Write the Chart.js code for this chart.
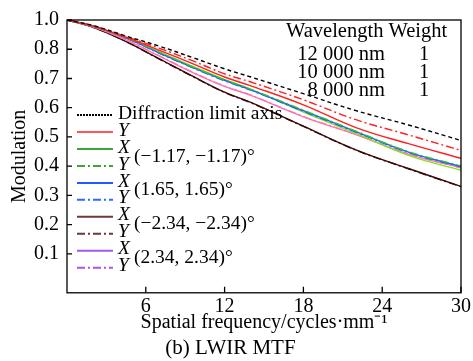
<!DOCTYPE html>
<html>
<head>
<meta charset="utf-8">
<script src="https://cdn.jsdelivr.net/npm/chart.js@4/dist/chart.umd.min.js"></script>
<style>
html, body { margin: 0; padding: 0; background: #fff; }
</style>
</head>
<body>
<canvas id="mtf" width="473" height="361"></canvas>
<script>
// spatial frequency, cycles/mm
var freq = [0, 2, 4.5, 7, 9.6, 12, 14, 18, 22, 26, 30];

// modulation
var diffLimit = [0.900, 0.881, 0.845, 0.811, 0.771, 0.733, 0.705, 0.648, 0.590, 0.541, 0.488];
var redY      = [0.900, 0.880, 0.843, 0.804, 0.760, 0.716, 0.688, 0.627, 0.559, 0.507, 0.454];
var redX      = [0.900, 0.879, 0.841, 0.797, 0.750, 0.705, 0.675, 0.610, 0.532, 0.477, 0.427];
var greenX    = [0.900, 0.879, 0.839, 0.792, 0.741, 0.697, 0.663, 0.585, 0.512, 0.437, 0.386];
var greenY    = [0.900, 0.879, 0.839, 0.790, 0.739, 0.695, 0.663, 0.592, 0.520, 0.450, 0.401];
var blueX     = [0.900, 0.879, 0.838, 0.788, 0.737, 0.694, 0.661, 0.590, 0.518, 0.448, 0.399];
var blueY     = [0.900, 0.879, 0.838, 0.787, 0.736, 0.692, 0.660, 0.588, 0.517, 0.447, 0.398];
var brownX    = [0.900, 0.875, 0.826, 0.768, 0.707, 0.653, 0.618, 0.537, 0.456, 0.392, 0.331];
var brownY    = [0.900, 0.875, 0.826, 0.767, 0.706, 0.652, 0.617, 0.536, 0.455, 0.391, 0.330];
var purpleX   = [0.900, 0.877, 0.832, 0.777, 0.720, 0.673, 0.642, 0.569, 0.508, 0.441, 0.394];
var purpleY   = [0.900, 0.877, 0.832, 0.778, 0.721, 0.674, 0.643, 0.570, 0.509, 0.442, 0.395];

// axis ticks
var xTicks = [6, 12, 18, 24, 30];
var yTicks = [0.1, 0.2, 0.3, 0.4, 0.5, 0.6, 0.7, 0.8, 0.9];
var yTickLabels = ['0.1', '0.2', '0.3', '0.4', '0.5', '0.6', '0.7', '0.8', '1.0'];

// legend + wavelength table
var legendText = ['Diffraction limit axis', 'Y', 'X', 'Y', 'X', 'Y', 'X', 'Y', 'X', 'Y'];
var fieldAngles = ['(\u22121.17, \u22121.17)\u00b0', '(1.65, 1.65)\u00b0', '(\u22122.34, \u22122.34)\u00b0', '(2.34, 2.34)\u00b0'];
var wavelengths = ['12 000 nm', '10 000 nm', '8 000 nm'];
var weights = [1, 1, 1];

var SERIF = "'Liberation Serif', 'Times New Roman', serif";
var DASHDOT = [8, 3, 2, 3];

function pts(arr) {
    return arr.map(function (v, i) { return {x: freq[i], y: v}; });
}

function line(data, color, dash, legendColor) {
    return {
        data: pts(data),
        borderColor: color,
        legendColor: legendColor || color,
        borderDash: dash,
        borderWidth: 1.4,
        pointRadius: 0,
        fill: false,
        tension: 0.4
    };
}

var datasets = [
    line(diffLimit, '#000000', [4, 3]),
    line(redY, '#ff2020', DASHDOT),
    line(redX, '#ff2020', [], '#ff5555'),
    line(greenY, '#33c633', DASHDOT, '#3aa63a'),
    line(blueX, '#1e5aff', []),
    line(blueY, '#1e5aff', DASHDOT, '#2d6cff'),
    line(greenX, '#86e01e', [], '#3aa63a'),
    line(purpleX, '#ff72b0', [], '#a455f5'),
    line(purpleY, '#ff72b0', DASHDOT, '#a455f5'),
    line(brownX, '#3a0808', [], '#6b3a3a'),
    line(brownY, '#3a0808', DASHDOT, '#6b3a3a')
];

// which dataset each legend row shows
var legendRows = [0, 2, 6, 3, 4, 5, 9, 10, 7, 8];

//box and inward ticks
var frame = {
    id: 'frame',
    afterDraw: function (chart) {
        var ctx = chart.ctx, a = chart.chartArea;
        var xs = chart.scales.x, ys = chart.scales.y;
        ctx.save();
        ctx.strokeStyle = '#000';
        ctx.lineWidth = 1.3;
        ctx.strokeRect(a.left, a.top, a.right - a.left, a.bottom - a.top);
        ctx.beginPath();
        xTicks.forEach(function (v) {
            var px = xs.getPixelForValue(v);
            ctx.moveTo(px, a.bottom);
            ctx.lineTo(px, a.bottom - 6);
        });
        yTicks.forEach(function (v) {
            var py = ys.getPixelForValue(v);
            ctx.moveTo(a.left, py);
            ctx.lineTo(a.left + 5, py);
        });
        ctx.stroke();
        ctx.restore();
    }
};

//legend and wavelength table drawn over the plot
var notes = {
    id: 'notes',
    afterDraw: function (chart) {
        var ctx = chart.ctx;
        ctx.save();
        ctx.fillStyle = '#000';
        ctx.textBaseline = 'middle';

        var y0 = 115, step = 16.97;
        for (let i = 0; i < legendRows.length; i++) {
            var ds = chart.data.datasets[legendRows[i]];
            var y = y0 + i * step;
            ctx.strokeStyle = ds.legendColor;
            ctx.lineWidth = 2;
            ctx.setLineDash(i == 0 ? [2, 1] : ds.borderDash);
            ctx.beginPath();
            ctx.moveTo(77, y);
            ctx.lineTo(113, y);
            ctx.stroke();
            ctx.setLineDash([]);
            ctx.font = (i == 0 ? '' : 'italic ') + '19.5px ' + SERIF;
            ctx.textAlign = 'left';
            ctx.fillText(legendText[i], 118, y - 1.5);
        }
        ctx.font = '19.5px ' + SERIF;
        for (let j = 0; j < fieldAngles.length; j++) {
            var ym = y0 + (2 + j * 2 + 0.5) * step;
            ctx.fillText(fieldAngles[j], 134, ym - 1);
        }

        ctx.textBaseline = 'alphabetic';
        ctx.font = '20.5px ' + SERIF;
        ctx.textAlign = 'left';
        ctx.fillText('Wavelength Weight', 286, 37);
        for (let k = 0; k < wavelengths.length; k++) {
            var yb = [60, 77.5, 96][k];
            ctx.textAlign = 'right';
            ctx.fillText(wavelengths[k], 385, yb);
            ctx.textAlign = 'center';
            ctx.fillText(String(weights[k]), 424, yb);
        }
        ctx.restore();
    }
};

new Chart(document.getElementById('mtf'), {
    type: 'line',
    data: { datasets: datasets },
    plugins: [frame, notes],
    options: {
        responsive: false,
        animation: false,
        layout: { padding: { left: 0, right: 12, top: 19, bottom: 0 } },
        plugins: {
            legend: { display: false },
            tooltip: { enabled: false },
            title: {
                display: true,
                position: 'bottom',
                text: '(b) LWIR MTF',
                color: '#000',
                font: { family: SERIF, size: 21, weight: 'normal' },
                padding: { top: 4, bottom: 0 }
            }
        },
        scales: {
            x: {
                type: 'linear',
                min: 0,
                max: 30,
                afterBuildTicks: function (s) { s.ticks = xTicks.map(function (v) { return {value: v}; }); },
                afterFit: function (s) { s.height = 39; },
                grid: { display: false, drawTicks: false },
                border: { display: false },
                ticks: { color: '#000', padding: 2, maxRotation: 0, font: { family: SERIF, size: 20 } },
                title: {
                    display: true,
                    text: 'Spatial frequency/cycles\u00b7mm\u207b\u00b9',
                    color: '#000',
                    font: { family: SERIF, size: 20 },
                    padding: { top: 0, bottom: -3 }
                }
            },
            y: {
                min: -0.033,
                max: 0.9,
                afterBuildTicks: function (s) { s.ticks = yTicks.map(function (v) { return {value: v}; }); },
                afterFit: function (s) { s.width = 67; },
                grid: { display: false, drawTicks: false },
                border: { display: false },
                ticks: {
                    color: '#000',
                    padding: 8,
                    font: { family: SERIF, size: 20 },
                    callback: function (v, i) { return yTickLabels[i]; }
                },
                title: {
                    display: true,
                    text: 'Modulation',
                    color: '#000',
                    font: { family: SERIF, size: 20 },
                    padding: { top: 8, bottom: 0 }
                }
            }
        }
    }
});
</script>
</body>
</html>
